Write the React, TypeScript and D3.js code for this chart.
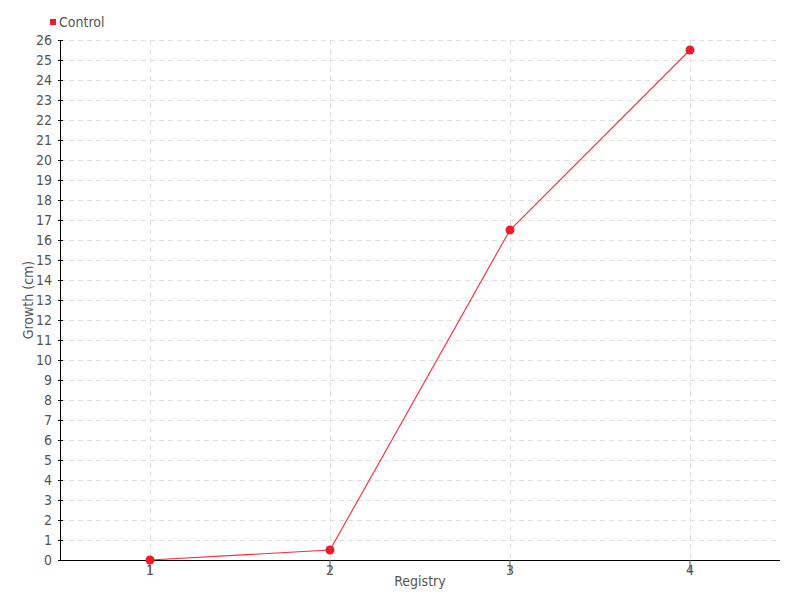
import React, { useEffect, useRef } from 'react';
import * as d3 from 'd3';

const categories = ['1', '2', '3', '4'];
const controlValues = [0, 0.5, 16.5, 25.5];
const seriesName = 'Control';
const yTicks = d3.range(0, 27);

const FONT = '"DejaVu Sans Condensed", sans-serif';

export default function App() {
    const ref = useRef<SVGSVGElement>(null);

    useEffect(() => {
        const svg = d3.select(ref.current);
        svg.selectAll('*').remove();

        const margin = { top: 40, right: 20, bottom: 40, left: 60 };
        const width = 800 - margin.left - margin.right;
        const height = 600 - margin.top - margin.bottom;

        const x = d3.scaleBand<string>().domain(categories).range([0, width]);
        const y = d3.scaleLinear().domain([0, 26]).range([height, 0]);
        const cx = (c: string) => (x(c) as number) + x.bandwidth() / 2;

        const g = svg.append('g')
            .attr('transform', 'translate(' + margin.left + ',' + margin.top + ')');

        // grid
        g.append('g').selectAll('line')
            .data(yTicks.filter(t => t > 0))
            .join('line')
            .attr('x1', 0).attr('x2', width)
            .attr('y1', d => y(d) + 0.5).attr('y2', d => y(d) + 0.5)
            .attr('stroke', '#e0e0e0').attr('stroke-dasharray', '5,4');
        g.append('g').selectAll('line')
            .data(categories)
            .join('line')
            .attr('x1', d => cx(d) + 0.5).attr('x2', d => cx(d) + 0.5)
            .attr('y1', 0).attr('y2', height)
            .attr('stroke', '#e0e0e0').attr('stroke-dasharray', '5,4');

        // axes
        const yAxis = g.append('g')
            .call(d3.axisLeft(y).tickValues(yTicks).tickSize(3).tickPadding(5).tickFormat(d3.format('d')));
        yAxis.select('.domain').attr('stroke', '#000').attr('d', 'M0.5,0V' + height);
        yAxis.selectAll('.tick line').attr('x1', -2).attr('x2', 3).attr('stroke', '#000');
        yAxis.selectAll('text').attr('fill', '#555').style('font-family', FONT).style('font-size', '14px');

        const xAxis = g.append('g')
            .attr('transform', 'translate(0,' + height + ')')
            .call(d3.axisBottom(x).tickSize(13).tickPadding(-8));
        xAxis.select('.domain').attr('stroke', '#000').attr('d', 'M0,0.5H' + width);
        xAxis.selectAll('.tick line').attr('stroke', '#555').attr('y1', 0);
        xAxis.selectAll('text').attr('fill', '#555').style('font-family', FONT).style('font-size', '14px');

        // line + points
        const line = d3.line<number>()
            .x((d, i) => cx(categories[i]))
            .y(d => y(d));
        g.append('path')
            .datum(controlValues)
            .attr('fill', 'none')
            .attr('stroke', '#ff2a3a')
            .attr('stroke-width', 1.1)
            .attr('d', line);
        g.append('g').selectAll('circle')
            .data(controlValues)
            .join('circle')
            .attr('cx', (d, i) => cx(categories[i]))
            .attr('cy', d => y(d))
            .attr('r', 4.5)
            .attr('fill', '#ee1c2a');

        // titles
        svg.append('text')
            .attr('transform', 'translate(33,' + (margin.top + height / 2) + ') rotate(-90)')
            .attr('text-anchor', 'middle')
            .attr('fill', '#555')
            .style('font-family', FONT).style('font-size', '14px')
            .text('Growth (cm)');
        svg.append('text')
            .attr('x', 420).attr('y', 586)
            .attr('text-anchor', 'middle')
            .attr('fill', '#555')
            .style('font-family', FONT).style('font-size', '14px')
            .text('Registry');

        // legend
        svg.append('rect')
            .attr('x', 50).attr('y', 19).attr('width', 6).attr('height', 6)
            .attr('fill', '#ee1c2a');
        svg.append('text')
            .attr('x', 59).attr('y', 27)
            .attr('fill', '#555')
            .style('font-family', FONT).style('font-size', '14px')
            .text(seriesName);
    }, []);

    return (
        <svg ref={ref} width={800} height={600}
            style={{ position: 'absolute', left: 0, top: 0, background: '#fff' }} />
    );
}
